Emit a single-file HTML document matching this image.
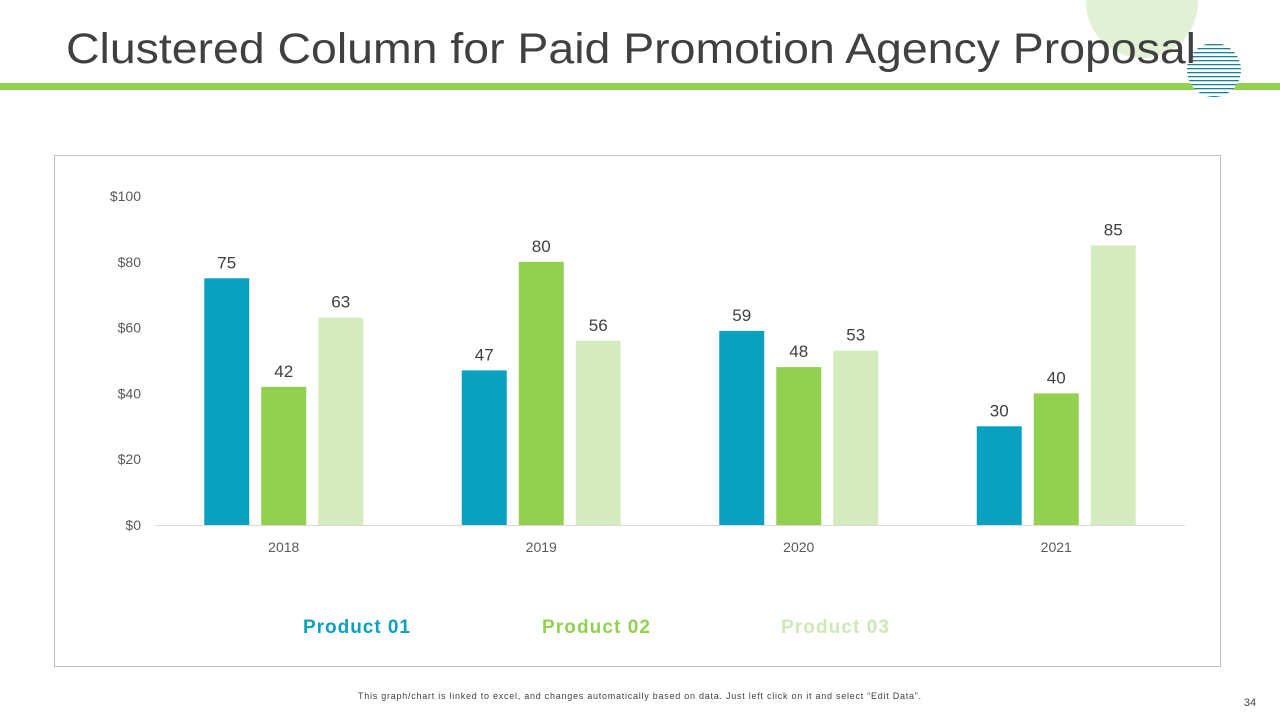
<!DOCTYPE html>
<html><head><meta charset="utf-8"><style>
body{margin:0;width:1280px;height:720px;background:#fff;overflow:hidden;position:relative;font-family:"Liberation Sans",sans-serif}
</style></head><body>
<svg width="1280" height="720" style="position:absolute;left:0;top:0">
<defs><clipPath id="cc"><circle cx="1214" cy="70" r="27"/></clipPath></defs>
<circle cx="1142" cy="2" r="56" fill="#e2f1d6"/>
<rect x="0" y="83" width="1280" height="7" fill="#92d050"/>
<circle cx="1214" cy="70" r="27" fill="#fff"/>
<g clip-path="url(#cc)" id="stripes"></g>
<text x="66" y="63" font-size="43" fill="#404040" textLength="1130" lengthAdjust="spacingAndGlyphs">Clustered Column for Paid Promotion Agency Proposal</text>
<rect x="54.5" y="155.5" width="1166" height="511" fill="none" stroke="#bfbfbf"/>
<g id="chart"></g>
<text x="303" y="633" font-size="19" font-weight="bold" fill="#0aa0bf" textLength="107">Product 01</text>
<text x="542" y="633" font-size="19" font-weight="bold" fill="#92d050" textLength="108">Product 02</text>
<text x="781" y="633" font-size="19" font-weight="bold" fill="#cde8b5" textLength="108">Product 03</text>
<text x="358" y="699" font-size="9" fill="#404040" textLength="563">This graph/chart is linked to excel, and changes automatically based on data. Just left click on it and select “Edit Data”.</text>
<text x="1250" y="706" font-size="11" fill="#404040" text-anchor="middle">34</text>
</svg>
<script>
const categories=["2018","2019","2020","2021"];
const product01=[75,47,59,30];
const product02=[42,80,48,40];
const product03=[63,56,53,85];
const yTicks=[0,20,40,60,80,100];
const NS="http://www.w3.org/2000/svg";
const st=document.getElementById('stripes');
for(let y=44;y<98;y+=4){const r=document.createElementNS(NS,'rect');r.setAttribute('x',1186);r.setAttribute('y',y);r.setAttribute('width',56);r.setAttribute('height',1.3);r.setAttribute('fill','#1f7f99');


st.appendChild(r);}
const g=document.getElementById('chart');
const x0=155,x1=1185,yB=525,yT=196;
const yS=v=>yB-(v/100)*(yB-yT);
const band=(x1-x0)/categories.length;
const xC=i=>x0+band*(i+0.5);
function el(t,a,txt){const e=document.createElementNS(NS,t);for(const k in a)e.setAttribute(k,a[k]);if(txt!=null)e.textContent=txt;g.appendChild(e);return e;}
const ax=el('line',{x1:x0,x2:x1,y1:yB+0.5,y2:yB+0.5,stroke:'#d9d9d9'});


yTicks.forEach(v=>{const t=el('text',{x:141,y:yS(v)+5,'font-size':14,fill:'#595959','text-anchor':'end'},'$'+v);

});
const series=[[product01,'#0aa0bf'],[product02,'#92d050'],[product03,'#d3ebbd']];
categories.forEach((c,i)=>{
 const t=el('text',{x:xC(i),y:552,'font-size':14,fill:'#595959','text-anchor':'middle'},c);
 
 
 series.forEach(([arr,col],s)=>{
  const cx=xC(i)+(s-1)*57;
  const b=el('rect',{x:cx-22.5,y:yS(arr[i]),width:45,height:yB-yS(arr[i]),fill:col});
  
  
  const l=el('text',{x:cx,y:yS(arr[i])-10,'font-size':17,fill:'#404040','text-anchor':'middle'},arr[i]);
  
  
 });
});
</script>
</body></html>
